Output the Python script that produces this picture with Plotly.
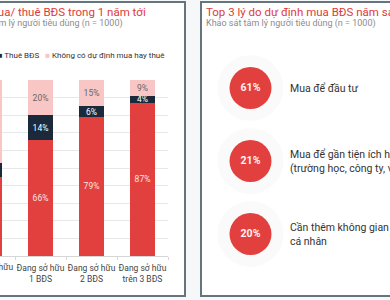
import plotly.graph_objects as go

# ---------------- data ----------------
categories = ["Chưa sở hữu<br>BĐS", "Đang sở hữu<br>1 BĐS", "Đang sở hữu<br>2 BĐS", "Đang sở hữu<br>trên 3 BĐS"]
series_names = ["Mua BĐS", "Thuê BĐS", "Không có dự định mua hay thuê"]
buy_values = [45, 66, 79, 87]
rent_values = [8, 14, 6, 4]
none_values = [47, 20, 15, 9]

reasons = ["Mua để đầu tư",
           "Mua để gần tiện ích hơn<br>(trường học, công ty, vui chơi)",
           "Cần thêm không gian<br>cá nhân"]
reason_values = [61, 21, 20]

left_title = "Dự định mua/ thuê BĐS trong 1 năm tới"
right_title = "Top 3 lý do dự định mua BĐS năm sau"
subtitle = "Khảo sát tâm lý người tiêu dùng (n = 1000)"

# ---------------- style ----------------
W, H = 390, 300
RED = "#e2403e"
NAVY = "#1b2a3a"
PINK = "#f9c6c6"
FONT = "Roboto"
colors = [RED, NAVY, PINK]
text_colors = ["#fde3e3", "#ffffff", "#666666"]

PLOT_RIGHT_PX = 168          # right edge of bar plot area
BAND_PX = 51                 # width of one category band
X_RANGE = [len(categories) - 0.5 - PLOT_RIGHT_PX / BAND_PX, len(categories) - 0.5]

def px(x):
    return x / W

def py(y):
    return 1 - y / H

fig = go.Figure()

for name, vals, col, tcol in zip(series_names, [buy_values, rent_values, none_values], colors, text_colors):
    fig.add_trace(go.Bar(
        x=categories, y=vals, name=name, marker=dict(color=col, line=dict(width=0)),
        text=[f"{v}%" for v in vals], textposition="inside", insidetextanchor="middle",
        textangle=0, constraintext="none", textfont=dict(family=FONT, size=8.5, color=tcol),
        showlegend=False, xaxis="x", yaxis="y", cliponaxis=True,
    ))

# circles for reasons
ranks = list(range(len(reasons)))
fig.add_trace(go.Scatter(
    x=[0] * len(ranks), y=ranks, mode="markers",
    marker=dict(size=66, color="rgba(190,190,190,0.07)", line=dict(width=0)),
    hoverinfo="skip", showlegend=False, xaxis="x2", yaxis="y2",
))
fig.add_trace(go.Scatter(
    x=[0] * len(ranks), y=ranks, mode="markers+text",
    marker=dict(size=42, color=RED, line=dict(width=0)),
    text=[f"<b>{v}%</b>" for v in reason_values], textposition="middle center",
    textfont=dict(family=FONT, size=10.5, color="#fff2f2"),
    showlegend=False, xaxis="x2", yaxis="y2",
))

annotations = []
for r, txt in zip(ranks, reasons):
    annotations.append(dict(
        x=37.5, y=r, xref="x2", yref="y2", text=txt, showarrow=False,
        xanchor="left", yanchor="middle", align="left",
        font=dict(family=FONT, size=10.5, color="#333333"),
    ))

# titles
annotations += [
    dict(x=px(148), y=py(12), xref="paper", yref="paper", text=left_title, showarrow=False,
         xanchor="right", yanchor="middle", font=dict(family=FONT, size=11.5, color="#e03a3a")),
    dict(x=px(125), y=py(24), xref="paper", yref="paper", text=subtitle, showarrow=False,
         xanchor="right", yanchor="middle", font=dict(family=FONT, size=9, color="#8c8c8c")),
    dict(x=px(204), y=py(12), xref="paper", yref="paper", text=right_title, showarrow=False,
         xanchor="left", yanchor="middle", font=dict(family=FONT, size=11.5, color="#e03a3a")),
    dict(x=px(204), y=py(24), xref="paper", yref="paper", text=subtitle, showarrow=False,
         xanchor="left", yanchor="middle", font=dict(family=FONT, size=9, color="#8c8c8c")),
]

# legend built as text
legend_txt = "   ".join(f"<span style='color:{c}'>■</span> {n}" for n, c in zip(series_names, colors))
annotations.append(dict(x=px(167), y=py(55), xref="paper", yref="paper", text=legend_txt,
                        showarrow=False, xanchor="right", yanchor="middle",
                        font=dict(family=FONT, size=8, color="#333333")))

# first category label (its tick lies just outside the visible axis range)
first_px = (0 - X_RANGE[0]) * BAND_PX
annotations.append(dict(x=px(first_px), y=py(260), xref="paper", yref="paper", text=categories[0],
                        showarrow=False, xanchor="center", yanchor="top",
                        font=dict(family=FONT, size=8.5, color="#444444")))

shapes = [
    dict(type="rect", xref="paper", yref="paper", x0=px(-10), x1=px(185), y0=py(296), y1=py(2),
         fillcolor="white", line=dict(color="#66747d", width=2), layer="below"),
    dict(type="rect", xref="paper", yref="paper", x0=px(201), x1=px(420), y0=py(296), y1=py(2),
         fillcolor="white", line=dict(color="#66747d", width=2), layer="below"),
]

fig.update_layout(
    width=W, height=H, margin=dict(l=0, r=0, t=0, b=0, autoexpand=False),
    paper_bgcolor="#f6f7f8", plot_bgcolor="rgba(0,0,0,0)",
    barmode="stack", bargap=0.51,
    font=dict(family=FONT),
    xaxis=dict(domain=[0, px(PLOT_RIGHT_PX)], range=X_RANGE, showgrid=False,
               showline=True, linecolor="#d6d6d6", linewidth=1, tickangle=0,
               ticks="outside", tickson="boundaries", ticklen=3, tickcolor="#d6d6d6",
               ticklabelstandoff=4,
               tickfont=dict(family=FONT, size=8.5, color="#444444"), fixedrange=True),
    yaxis=dict(domain=[py(256), py(80)], range=[0, 100], dtick=10, showticklabels=False,
               gridcolor="#e8e8e8", gridwidth=1, zeroline=False, fixedrange=True),
    xaxis2=dict(domain=[px(201), 1], range=[-49.5, 139.5], visible=False, fixedrange=True),
    yaxis2=dict(domain=[0, 1], range=[(300 - 88) / 73, -88 / 73], visible=False, fixedrange=True),
    annotations=annotations, shapes=shapes, showlegend=False,
)

fig.write_html("out.html")
